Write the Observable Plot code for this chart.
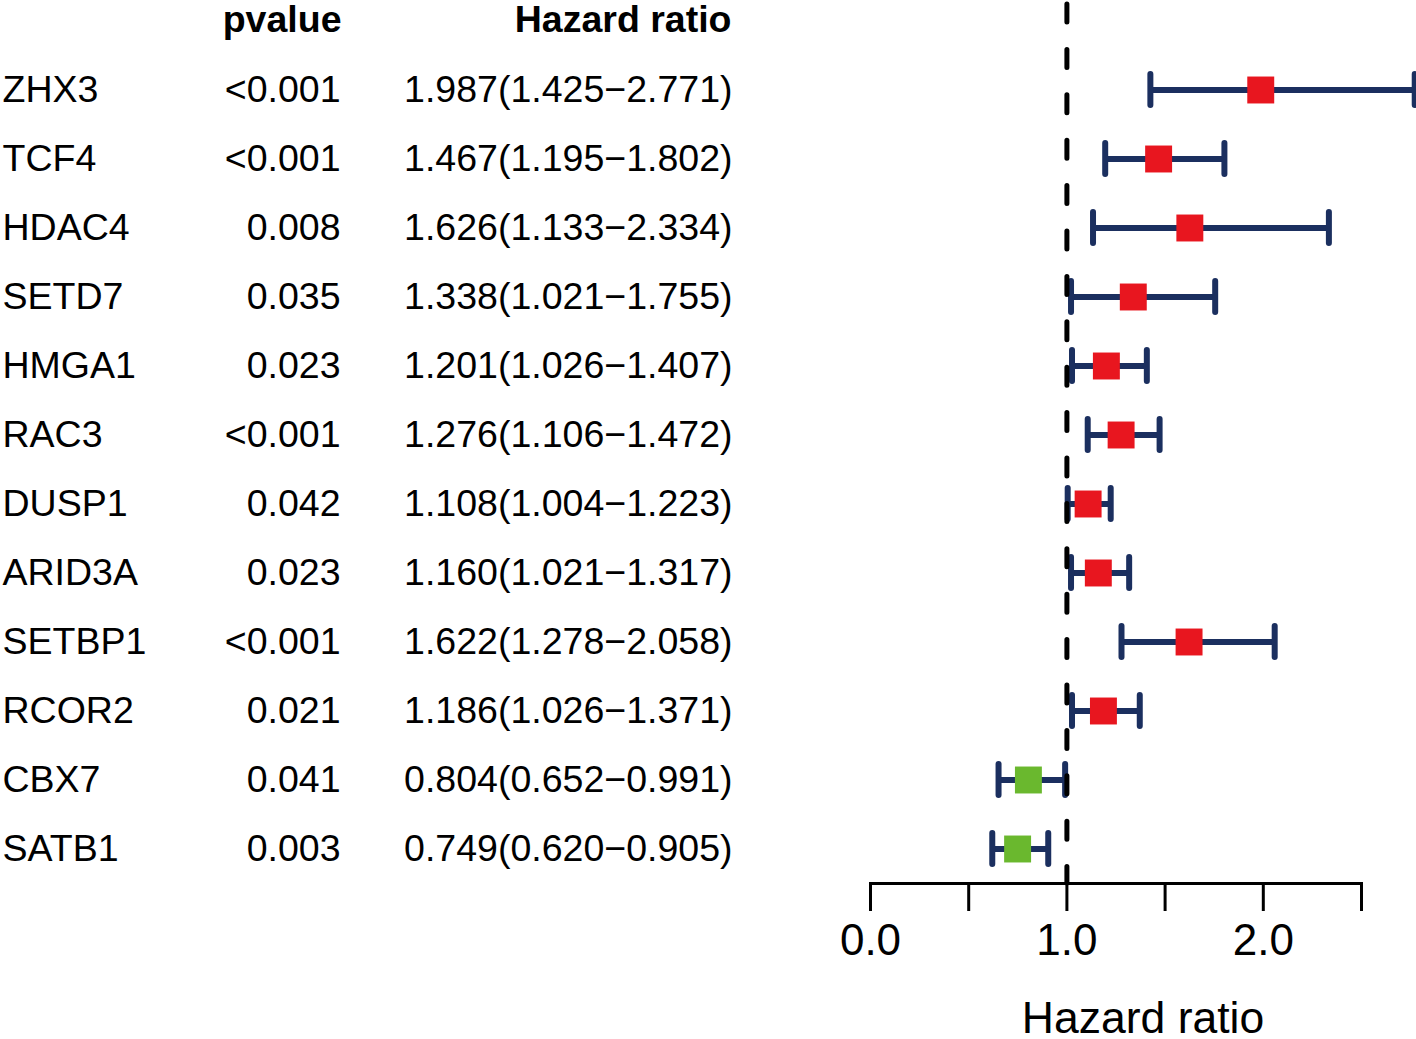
<!DOCTYPE html>
<html>
<head>
<meta charset="utf-8">
<script src="https://cdn.jsdelivr.net/npm/d3@7"></script>
<script src="https://cdn.jsdelivr.net/npm/@observablehq/plot@0.6"></script>
<style>
  html, body { margin: 0; padding: 0; background: #fff; }
</style>
</head>
<body>
<div id="chart"></div>
<script>
const genes  = ["ZHX3","TCF4","HDAC4","SETD7","HMGA1","RAC3","DUSP1","ARID3A","SETBP1","RCOR2","CBX7","SATB1"];
const pvalues = ["<0.001","<0.001","0.008","0.035","0.023","<0.001","0.042","0.023","<0.001","0.021","0.041","0.003"];
const hr     = [1.987, 1.467, 1.626, 1.338, 1.201, 1.276, 1.108, 1.160, 1.622, 1.186, 0.804, 0.749];
const lower  = [1.425, 1.195, 1.133, 1.021, 1.026, 1.106, 1.004, 1.021, 1.278, 1.026, 0.652, 0.620];
const upper  = [2.771, 1.802, 2.334, 1.755, 1.407, 1.472, 1.223, 1.317, 2.058, 1.371, 0.991, 0.905];
const xTicks = [0, 0.5, 1, 1.5, 2, 2.5];
const xTickLabels = ["0.0", "", "1.0", "", "2.0", ""];

const rows = genes.map((g, i) => ({
  gene: g, p: pvalues[i], hr: hr[i], lo: lower[i], hi: upper[i],
  label: `${hr[i].toFixed(3)}(${lower[i].toFixed(3)}\u2212${upper[i].toFixed(3)})`
}));

const FONT = "'Liberation Sans', Arial, Helvetica, sans-serif";
const NAVY = "#1b2f5f";
const RED = "#e8161f";
const GREEN = "#6ab82e";
const FS = 37.5;

const chart = Plot.plot({
  width: 1416,
  height: 1039,
  marginLeft: 870,
  marginRight: 55,
  marginTop: 0,
  marginBottom: 156,
  style: { fontFamily: FONT, background: "#fff", overflow: "visible" },
  x: { domain: [0, 2.5], axis: null },
  y: { type: "band", domain: genes, padding: 0, insetTop: 53, insetBottom: -2, axis: null },
  marks: [
    // column text
    Plot.text(rows, { y: "gene", text: "gene", frameAnchor: "left", dx: -868, textAnchor: "start", fontSize: FS, fill: "#000" }),
    Plot.text(rows, { y: "gene", text: "p", frameAnchor: "left", dx: -530, textAnchor: "end", fontSize: FS, fill: "#000" }),
    Plot.text(rows, { y: "gene", text: "label", frameAnchor: "left", dx: -138, textAnchor: "end", fontSize: FS, fill: "#000" }),
    // headers
    Plot.text(["pvalue"], { frameAnchor: "top-left", dx: -529, dy: 19, textAnchor: "end", lineAnchor: "middle", fontSize: FS, fontWeight: "bold", fill: "#000" }),
    Plot.text(["Hazard ratio"], { frameAnchor: "top-left", dx: -139, dy: 19, textAnchor: "end", lineAnchor: "middle", fontSize: FS, fontWeight: "bold", fill: "#000" }),
    // error bars
    Plot.link(rows, { x1: "lo", x2: "hi", y1: "gene", y2: "gene", stroke: NAVY, strokeWidth: 6 }),
    Plot.tickX(rows, { x: "lo", y: "gene", stroke: NAVY, strokeWidth: 6, strokeLinecap: "round", insetTop: 19, insetBottom: 19 }),
    Plot.tickX(rows, { x: "hi", y: "gene", stroke: NAVY, strokeWidth: 6, strokeLinecap: "round", insetTop: 19, insetBottom: 19 }),
    // reference line
    Plot.ruleX([1], { stroke: "#000", strokeWidth: 5, strokeDasharray: "18,27.4", strokeDashoffset: -4, strokeLinecap: "round" }),
    // squares
    Plot.dot(rows, { x: "hr", y: "gene", symbol: "square", r: 15.2, fill: d => d.hr > 1 ? RED : GREEN, stroke: null }),
    // axis
    Plot.frame({ anchor: "bottom", stroke: "#000", strokeWidth: 3 }),
    Plot.axisX({ ticks: xTicks, tickSize: 28, tickPadding: 12, strokeWidth: 3,
      tickFormat: d => xTickLabels[xTicks.indexOf(d)], fontSize: 44, fill: "#000", stroke: "#000", label: null }),
    Plot.text(["Hazard ratio"], { frameAnchor: "bottom", dx: 27, dy: 135, lineAnchor: "middle", fontSize: 44.5, fill: "#000" })
  ]
});
document.getElementById("chart").appendChild(chart);
</script>
</body>
</html>
